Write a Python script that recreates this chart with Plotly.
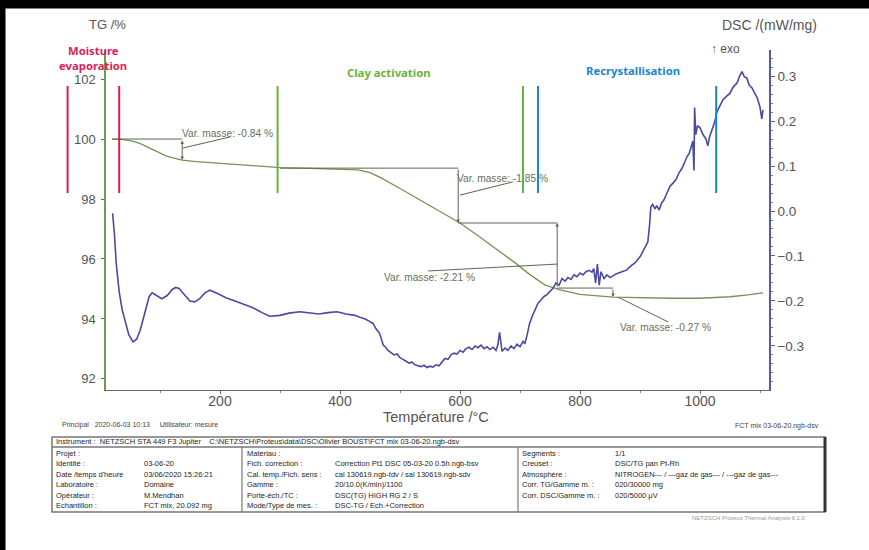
import plotly.graph_objects as go

# ---------------- data ----------------
tg_T = [20, 35, 50, 60, 70, 80, 90, 100, 110, 120, 137, 160, 200, 250, 300, 350, 400, 430, 450, 467,
        500, 533, 567, 600, 633, 667, 692, 717, 742, 767, 800, 855, 900, 950, 1000, 1050, 1080, 1105]
tg_val = [100.0, 99.99, 99.95, 99.9, 99.82, 99.72, 99.62, 99.52, 99.44, 99.38, 99.3, 99.25, 99.19, 99.12,
          99.05, 99.02, 99.0, 98.97, 98.88, 98.72, 98.35, 97.97, 97.58, 97.2, 96.73, 96.23, 95.87, 95.47,
          95.13, 94.97, 94.82, 94.73, 94.7, 94.69, 94.69, 94.74, 94.8, 94.87]

dsc_T = [21, 24, 27, 32, 37, 42, 48, 55, 61, 67, 72, 77, 82, 87, 95, 103, 112, 120, 126, 132, 140, 150,
         158, 166, 175, 183, 195, 210, 225, 240, 255, 270, 283, 300, 315, 333, 350, 365, 380, 395, 410,
         425, 433, 442, 450,
         455, 460, 465, 468, 472, 476, 480, 485, 490, 495, 500, 505, 510, 515, 520, 525, 530, 535, 540,
         545, 550, 555, 560, 565, 570, 575, 580, 585, 590, 595, 600, 605, 610, 615, 620, 625, 630, 635,
         640, 645, 650, 655, 660, 663, 666, 670, 675, 680, 685, 690, 695, 700, 705, 708, 712, 716, 720,
         725, 730, 735, 740, 745, 750, 755, 760, 765, 770, 775, 780, 785, 790, 795, 800, 805, 810, 815,
         820, 823, 826, 829, 832, 835, 840, 845, 850, 860, 870, 878, 885, 892, 900, 905, 910, 913, 916,
         918, 921, 925, 928, 932, 936, 940, 945, 950, 955, 960, 965, 970, 975, 978, 982, 985, 988, 990,
         991, 993, 996, 1000, 1005, 1010, 1013, 1016, 1020, 1025, 1028, 1032, 1038, 1044, 1050, 1055,
         1062, 1066, 1070, 1074, 1078, 1082, 1087, 1091, 1095, 1098, 1100, 1103, 1105]
dsc_val = [-0.005, -0.05, -0.116, -0.18, -0.22, -0.245, -0.275, -0.291, -0.285, -0.265, -0.24, -0.21,
           -0.19, -0.182, -0.188, -0.195, -0.188, -0.175, -0.17, -0.172, -0.185, -0.2, -0.202, -0.195,
           -0.182, -0.176, -0.183, -0.193, -0.2, -0.207, -0.215, -0.226, -0.234, -0.232, -0.227, -0.224,
           -0.226, -0.229, -0.226, -0.224, -0.229, -0.232, -0.236, -0.24, -0.246,
           -0.25, -0.262, -0.27, -0.28, -0.298, -0.303, -0.31, -0.315, -0.32, -0.318, -0.326, -0.33,
           -0.334, -0.338, -0.336, -0.342, -0.344, -0.346, -0.343, -0.348, -0.345, -0.347, -0.342, -0.344,
           -0.336, -0.328, -0.33, -0.32, -0.316, -0.318, -0.31, -0.314, -0.306, -0.303, -0.308, -0.3,
           -0.304, -0.298, -0.306, -0.302, -0.308, -0.303, -0.31, -0.298, -0.27, -0.312, -0.305, -0.31,
           -0.3, -0.306, -0.296, -0.302, -0.29, -0.295, -0.275, -0.25, -0.235, -0.22, -0.205, -0.198,
           -0.19, -0.186, -0.178, -0.172, -0.16, -0.165, -0.15, -0.156, -0.148, -0.152, -0.142, -0.146,
           -0.138, -0.142, -0.135, -0.132, -0.136, -0.128, -0.16, -0.118, -0.165, -0.135, -0.15, -0.142,
           -0.148, -0.14, -0.135, -0.131, -0.122, -0.115, -0.102, -0.09, -0.078, -0.069, -0.03, 0.009,
           0.015, 0.005, 0.012, 0.002, 0.018, 0.025, 0.04, 0.055, 0.062, 0.07, 0.085, 0.095, 0.11, 0.12,
           0.128, 0.14, 0.155, 0.09, 0.23, 0.17, 0.19, 0.185, 0.17, 0.16, 0.145, 0.165, 0.18, 0.2, 0.22,
           0.23, 0.247, 0.255, 0.262, 0.275, 0.285, 0.3, 0.31, 0.298, 0.296, 0.28, 0.273, 0.262, 0.253,
           0.24, 0.231, 0.205, 0.225]

# phase boundaries (temperature, colour group)
phase_T = [-54, 32, 296, 705, 730, 1027]
phase_color = ["#d81b50", "#d81b50", "#6ab23e", "#6ab23e", "#1b84cf", "#1b84cf"]
phase_tg_span = [98.2, 101.77]
phase_names = ["Moisture", "evaporation", "Clay activation", "Recrystallisation"]

# mass-variation steps
mass_labels = ["Var. masse: -0.84 %", "Var. masse: -1.85 %", "Var. masse: -2.21 %", "Var. masse: -0.27 %"]
step_T = [137, 597, 762, 855]
step_start_T = [20, 300, 597, 762]
step_top = [100.0, 99.03, 97.2, 95.03]
step_bot = [99.3, 97.2, 95.03, 94.73]
label_T = [133, 592, 470, 863]
label_tg = [100.2, 98.7, 95.37, 93.7]
leader = [((138, 99.7), (217, 100.07)), ((600, 98.13), (688, 98.57)),
          ((547, 95.6), (762, 95.83)), ((863, 94.73), (947, 93.9))]

x_ticks = [200, 400, 600, 800, 1000]
XR = [10, 1115]
YR_TG = [91.63, 102.97]
YR_DSC = [-0.398, 0.358]

# ---------------- figure ----------------
W, H = 869, 550
L, R, T, B = 106, 100, 50, 160
PW, PH = W - L - R, H - T - B


def px(x):
    return (x - L) / PW


def py(y):
    return (H - B - y) / PH


def tx(temp):
    return (temp - XR[0]) / (XR[1] - XR[0])


fig = go.Figure()
fig.add_trace(go.Scatter(x=tg_T, y=tg_val, mode="lines", line=dict(color="#739455", width=1.3),
                         yaxis="y", showlegend=False))
fig.add_trace(go.Scatter(x=dsc_T, y=dsc_val, mode="lines", line=dict(color="#4a4aa2", width=1.6),
                         yaxis="y2", showlegend=False))

shapes = []
annotations = []
step_col = "#5c6650"

for i in range(4):
    shapes.append(dict(type="line", xref="x", yref="y", x0=step_start_T[i], x1=step_T[i],
                       y0=step_top[i], y1=step_top[i], line=dict(color=step_col, width=1)))
    (a, b), (c, d) = leader[i]
    shapes.append(dict(type="line", xref="x", yref="y", x0=a, y0=b, x1=c, y1=d,
                       line=dict(color=step_col, width=1)))
    annotations.append(dict(x=step_T[i], y=step_bot[i] if i != 2 else step_top[i],
                            ax=step_T[i], ay=step_top[i] if i != 2 else step_bot[i],
                            xref="x", yref="y", axref="x", ayref="y", text="", showarrow=True,
                            arrowhead=2, arrowsize=0.7, arrowwidth=1, arrowcolor=step_col,
                            arrowside="end+start" if i == 0 else "end"))
    annotations.append(dict(x=label_T[i], y=label_tg[i], xref="x", yref="y", text=mass_labels[i],
                            showarrow=False, xanchor="left", yanchor="middle",
                            font=dict(family="Liberation Sans", size=10.2, color="#66705a")))

# phase lines
for t, c in zip(phase_T, phase_color):
    shapes.append(dict(type="line", xref="paper", yref="y", x0=tx(t), x1=tx(t),
                       y0=phase_tg_span[0], y1=phase_tg_span[1], line=dict(color=c, width=2)))

bold = dict(family="Noto Sans", size=11.3, weight="bold")
annotations += [
    dict(x=px(93), y=py(50), text=phase_names[0], font=dict(**bold, color="#dc2258")),
    dict(x=px(93), y=py(65.5), text=phase_names[1], font=dict(**bold, color="#dc2258")),
    dict(x=px(389), y=py(72), text=phase_names[2], font=dict(**bold, color="#6ab23e")),
    dict(x=px(633), y=py(70), text=phase_names[3], font=dict(**bold, color="#1b84cf")),
]
for a in annotations[-4:]:
    a.update(xref="paper", yref="paper", showarrow=False, xanchor="center", yanchor="middle")

axis_font = dict(family="Liberation Sans", size=13, color="#555555")
annotations += [
    dict(x=px(87), y=py(24), text="TG /%", xanchor="left"),
    dict(x=px(720), y=py(25), text="DSC /(mW/mg)", xanchor="left",
         font=dict(family="Liberation Sans", size=14, color="#555555")),
    dict(x=px(709), y=py(49), text="↑ exo", xanchor="left",
         font=dict(family="Liberation Sans", size=12, color="#555555")),
    dict(x=px(436), y=py(417), text="Température /°C", xanchor="center",
         font=dict(family="Liberation Sans", size=14.5, color="#555555")),
]
for a in annotations[-4:]:
    a.update(xref="paper", yref="paper", showarrow=False, yanchor="middle")
    a.setdefault("font", axis_font)

# black frame (scan border)
shapes.append(dict(type="rect", xref="paper", yref="paper", x0=px(-2), x1=px(W + 2), y0=py(8), y1=py(-2),
                   fillcolor="#000000", line=dict(color="#000000", width=1), layer="above"))
shapes.append(dict(type="rect", xref="paper", yref="paper", x0=px(-2), x1=px(5), y0=py(H + 2), y1=py(-2),
                   fillcolor="#000000", line=dict(color="#000000", width=1), layer="above"))

# info table
shapes.append(dict(type="rect", xref="paper", yref="paper", x0=px(52), x1=px(825),
                   y0=py(512), y1=py(437), line=dict(color="#777777", width=1.5)))
shapes.append(dict(type="line", xref="paper", yref="paper", x0=px(52), x1=px(825), y0=py(447), y1=py(447),
                   line=dict(color="#777777", width=1.5)))
for xv in [242, 518]:
    shapes.append(dict(type="line", xref="paper", yref="paper", x0=px(xv), x1=px(xv), y0=py(512), y1=py(447),
                       line=dict(color="#777777", width=1.2)))
shapes.append(dict(type="line", xref="paper", yref="paper", x0=px(825), x1=px(825), y0=py(512), y1=py(437),
                   line=dict(color="#333333", width=3)))

small = dict(family="Liberation Sans", size=7.5, color="#1e1e1e")
tiny = dict(family="Liberation Sans", size=7, color="#444444")
rows_y = [453, 463.5, 474, 484.5, 495, 505.5]
col1 = [("Projet :", ""), ("Identité :", "03-06-20"), ("Date /temps d'heure", "03/06/2020 15:26:21"),
        ("Laboratoire :", "Domaine"), ("Opérateur :", "M.Mendhan"), ("Echantillon :", "FCT mix, 20.092 mg")]
col2 = [("Matériau :", ""), ("Fich. correction :", "Correction Pt1 DSC 05-03-20 0.5h.ngb-bsv"),
        ("Cal. temp./Fich. sens :", "cal 130619.ngb-tdv / sal 130619.ngb-sdv"),
        ("Gamme :", "20/10.0(K/min)/1100"), ("Porte-éch./TC :", "DSC(TG) HIGH RG 2 / S"),
        ("Mode/Type de mes. :", "DSC-TG / Ech.+Correction")]
col3 = [("Segments :", "1/1"), ("Creuset :", "DSC/TG pan Pt-Rh"),
        ("Atmosphère :", "NITROGEN--- / ---gaz de gas--- / ---gaz de gas---"),
        ("Corr. TG/Gamme m. :", "020/30000 mg"), ("Corr. DSC/Gamme m. :", "020/5000 µV"), ("", "")]
for col, xl, xv in [(col1, 54, 142), (col2, 245, 333), (col3, 520, 613)]:
    for (lab, val), yv in zip(col, rows_y):
        for txt, xx in [(lab, xl), (val, xv)]:
            if txt:
                annotations.append(dict(x=px(xx), y=py(yv), xref="paper", yref="paper", text=txt,
                                        showarrow=False, xanchor="left", yanchor="middle", font=small))
annotations.append(dict(x=px(54), y=py(442), xref="paper", yref="paper",
                        text="Instrument :  NETZSCH STA 449 F3 Jupiter    C:\\NETZSCH\\Proteus\\data\\DSC\\Olivier BOUST\\FCT mix 03-06-20.ngb-dsv",
                        showarrow=False, xanchor="left", yanchor="middle", font=small))
annotations.append(dict(x=px(60), y=py(425), xref="paper", yref="paper",
                        text="Principal   2020-06-03 10:13     Utilisateur: mesure",
                        showarrow=False, xanchor="left", yanchor="middle", font=tiny))
annotations.append(dict(x=px(733), y=py(426), xref="paper", yref="paper", text="FCT mix 03-06-20.ngb-dsv",
                        showarrow=False, xanchor="left", yanchor="middle", font=tiny))
annotations.append(dict(x=px(690), y=py(518), xref="paper", yref="paper",
                        text="NETZSCH Proteus Thermal Analysis 6.1.0",
                        showarrow=False, xanchor="left", yanchor="middle",
                        font=dict(family="Liberation Sans", size=6, color="#999999")))

fig.update_layout(
    width=W, height=H, margin=dict(l=L, r=R, t=T, b=B),
    paper_bgcolor="white", plot_bgcolor="white", showlegend=False,
    xaxis=dict(range=XR, tickvals=x_ticks, showgrid=False, zeroline=False, showline=True,
               linecolor="#666666", linewidth=1.2, ticks="outside", ticklen=3, tickcolor="#666666",
               ticklabelstandoff=-5,
               tickfont=dict(family="Liberation Sans", size=14, color="#555555"),
               minor=dict(dtick=100, tick0=0, ticklen=2, tickcolor="#888888", ticks="outside")),
    yaxis=dict(range=YR_TG, dtick=2, tick0=92, showgrid=False, zeroline=False, showline=True,
               linecolor="#6f9a52", linewidth=1.5, ticks="outside", ticklen=3, tickcolor="#666666",
               ticklabelstandoff=3,
               tickfont=dict(family="Liberation Sans", size=13, color="#555555")),
    yaxis2=dict(range=YR_DSC, dtick=0.1, tick0=0, tickformat=".1f", overlaying="y", side="right",
                showgrid=False, zeroline=False, showline=True, linecolor="#5a5aa0", linewidth=1.5,
                ticks="outside", ticklen=4, tickcolor="#666666",
                tickfont=dict(family="Liberation Sans", size=13.5, color="#555555"),
                minor=dict(dtick=0.02, ticklen=2, tickcolor="#7777aa", ticks="outside")),
    shapes=shapes, annotations=annotations,
)

fig.write_html("out.html")
